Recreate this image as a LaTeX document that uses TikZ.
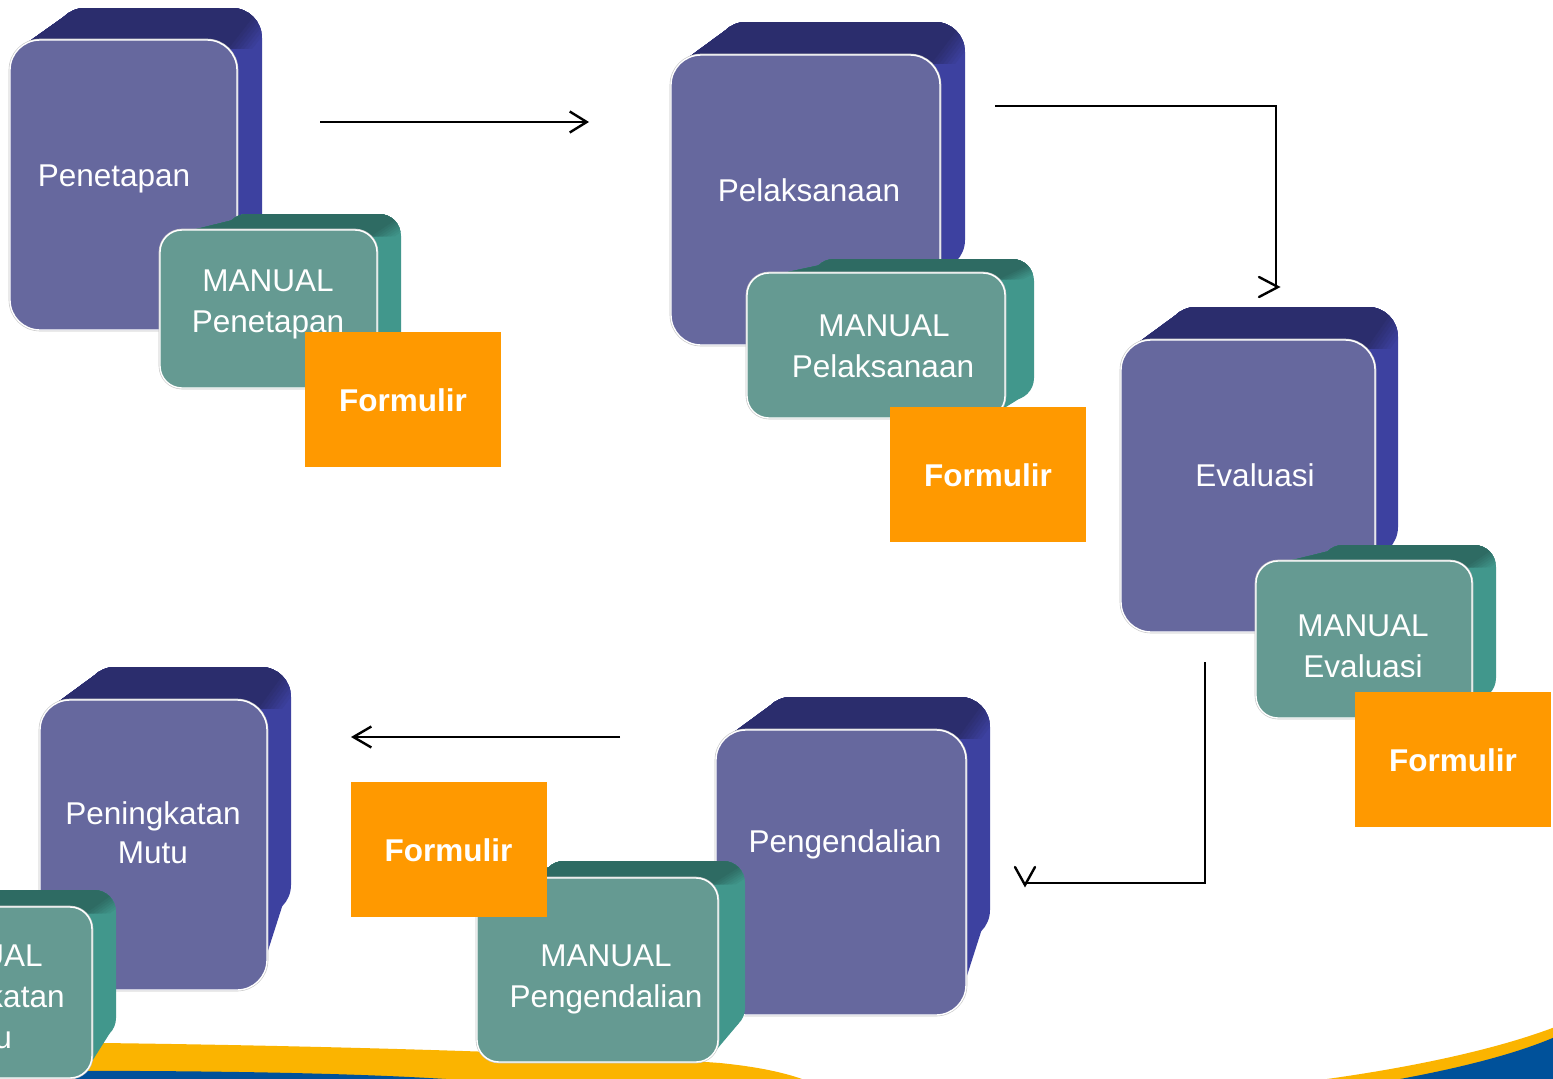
\documentclass[tikz,border=0pt]{standalone}
\usepackage{fontspec}
\setmainfont{Liberation Sans}
\usetikzlibrary{calc,arrows.meta}

\definecolor{purplefront}{RGB}{102,104,158}
\definecolor{purpletop}{RGB}{43,45,109}
\definecolor{purpleside}{RGB}{61,65,160}
\definecolor{tealfront}{RGB}{101,154,146}
\definecolor{tealtop}{RGB}{46,107,99}
\definecolor{tealside}{RGB}{65,151,140}
\definecolor{formorange}{RGB}{255,153,0}
\definecolor{swyellow}{RGB}{251,180,0}
\definecolor{swblue}{RGB}{0,81,154}

% Extruded rounded block: #1 name, #2 colour scheme, #3 corner radius,
% #4/#5 front face corners, #6/#7 back face corners
\newcommand\bevelbox[7]{%
  \pgfmathsetmacro\bk{0.293*#3}%
  \coordinate (#1-f1) at #4;
  \coordinate (#1-f2) at #5;
  \coordinate (#1-b1) at #6;
  \coordinate (#1-b2) at #7;
  \coordinate (#1-ftl) at ($(#1-f1)+(\bk,\bk)$);
  \coordinate (#1-fbr) at ($(#1-f2)+(-\bk,-\bk)$);
  \coordinate (#1-btl) at ($(#1-b1)+(\bk,\bk)$);
  \coordinate (#1-bbr) at ($(#1-b2)+(-\bk,-\bk)$);
  \coordinate (#1-ftr) at ($(#1-f2|-#1-f1)+(-\bk,\bk)$);
  \coordinate (#1-btr) at ($(#1-b2|-#1-b1)+(-\bk,\bk)$);
  % side of the extrusion
  \fill[#2side,rounded corners=#3] (#1-b1) rectangle (#1-b2);
  \fill[#2side] (#1-ftl) -- (#1-btl) -- (#1-bbr) -- (#1-fbr) -- cycle;
  % top of the extrusion, blended into the side near the corner
  \foreach \i in {6,5,...,0} {
    \pgfmathtruncatemacro\mix{100-\i*14}
    \begin{scope}
      \clip ($(#1-ftr)+(\i*4,0)$) -- ($($(#1-ftr)!4!(#1-btr)$)+(\i*4,0)$)
        -- ++(-900,0) |- ($(#1-ftr)+(\i*4,0)$) -- cycle;
      \fill[#2top!\mix!#2side,rounded corners=#3] (#1-b1) rectangle (#1-b2);
      \fill[#2top!\mix!#2side] (#1-ftl) -- (#1-btl) -- (#1-bbr) -- (#1-fbr) -- cycle;
    \end{scope}
  }
  % front face
  \draw[gray!45,line width=2.6pt,rounded corners=#3] (#1-f1) rectangle (#1-f2);
  \fill[#2front,draw=white,line width=1.4pt,rounded corners=#3] (#1-f1) rectangle (#1-f2);
}

\tikzset{
  boxtext/.style={text=white,font=\fontsize{31.5}{38}\selectfont,
    text height=23pt,text depth=0pt,inner sep=0pt},
  formbox/.style={fill=formorange,minimum width=196pt,minimum height=135pt,
    inner sep=0pt,text=white,font=\fontsize{31.5}{38}\selectfont\bfseries,
    text height=23pt,text depth=0pt},
  link/.style={line width=2.4pt,black},
  chevron/.style={line width=2.4pt,black,line cap=round,line join=miter},
}

\begin{document}
\begin{tikzpicture}[x=1pt,y=-1pt]
\useasboundingbox (0,0) rectangle (1553,1079);
\fill[white] (0,0) rectangle (1553,1079);

% bottom swoosh
\fill[swyellow] (-2,1042) .. controls (300,1044) and (600,1054) .. (720,1063)
  .. controls (760,1067) and (785,1073) .. (802,1079) -- (-2,1079) -- cycle;
\fill[swblue] (-2,1071) .. controls (200,1070) and (350,1073) .. (446,1079) -- (-2,1079) -- cycle;
\fill[swyellow] (1327,1079) .. controls (1420,1066) and (1500,1048) .. (1555,1027) -- (1555,1079) -- cycle;
\fill[swblue] (1400,1079) .. controls (1470,1066) and (1520,1052) .. (1555,1037) -- (1555,1079) -- cycle;

% Penetapan
\bevelbox{pen}{purple}{30pt}{(10,40)}{(237,330)}{(55,8)}{(262,255)}
\node[boxtext] (pen-t) at (114,175) {Penetapan};
\bevelbox{mpen}{teal}{22pt}{(160,230)}{(377,388)}{(225,214)}{(401,370)}
\node[boxtext] (mpen-t1) at (268,280) {MANUAL};
\node[boxtext] (mpen-t2) at (268,321) {Penetapan};
\node[formbox] (fpen) at (403,399.5) {Formulir};

% Pelaksanaan
\bevelbox{pel}{purple}{30pt}{(671,55)}{(940,345)}{(716,22)}{(965,270)}
\node[boxtext] (pel-t) at (809,190) {Pelaksanaan};
\bevelbox{mpel}{teal}{22pt}{(747,273)}{(1005,418)}{(812,259)}{(1034,400)}
\node[boxtext] (mpel-t1) at (884,325) {MANUAL};
\node[boxtext] (mpel-t2) at (883,366) {Pelaksanaan};
\node[formbox] (fpel) at (988,474.5) {Formulir};

% Evaluasi
\bevelbox{eva}{purple}{30pt}{(1121,340)}{(1375,632)}{(1166,307)}{(1398,557)}
\node[boxtext] (eva-t) at (1255,475) {Evaluasi};
\bevelbox{meva}{teal}{22pt}{(1256,561)}{(1472,718)}{(1321,545)}{(1496,700)}
\node[boxtext] (meva-t1) at (1363,625) {MANUAL};
\node[boxtext] (meva-t2) at (1363,666) {Evaluasi};
\node[formbox] (feva) at (1453,759.5) {Formulir};

% Pengendalian
\bevelbox{pgd}{purple}{30pt}{(716,730)}{(966,1015)}{(761,697)}{(990,940)}
\node[boxtext] (pgd-t) at (845,841) {Pengendalian};
\bevelbox{mpgd}{teal}{22pt}{(477,878)}{(718,1062)}{(542,861)}{(745,1030)}
\node[boxtext] (mpgd-t1) at (606,955) {MANUAL};
\node[boxtext] (mpgd-t2) at (606,996) {Pengendalian};
\node[formbox] (fpgd) at (448.5,849.5) {Formulir};

% Peningkatan Mutu
\bevelbox{pmt}{purple}{30pt}{(40,700)}{(267,990)}{(85,667)}{(291,915)}
\node[boxtext] (pmt-t1) at (153,813) {Peningkatan};
\node[boxtext] (pmt-t2) at (153,852) {Mutu};
\bevelbox{mpmt}{teal}{22pt}{(-138,907)}{(92,1078)}{(-73,890)}{(116,1040)}
\node[boxtext] (mpmt-t1) at (-23,955) {MANUAL};
\node[boxtext] (mpmt-t2) at (-23,996) {Peningkatan};
\node[boxtext] (mpmt-t3) at (-23,1037) {Mutu};

% cycle connectors
\coordinate (a1s) at (320,122);
\coordinate (a1e) at (589,122);
\draw[link,-{Straight Barb[length=17pt,width=21pt,line width=2.4pt]}] (a1s) -- (a1e);

\coordinate (a2s) at (995,106);
\coordinate (a2e) at (1276,287);
\draw[link] (a2s) -| (a2e);
\draw[chevron] ($(a2e)+(-17,-10)$) -- ($(a2e)+(2,0)$) -- ($(a2e)+(-17,10)$);

\coordinate (a3s) at (620,737);
\coordinate (a3e) at (351,737);
\draw[link,-{Straight Barb[length=18pt,width=21pt,line width=2.4pt]}] (a3s) -- (a3e);

\coordinate (a4s) at (1205,662);
\coordinate (a4e) at (1025,883);
\draw[link] (a4s) |- (a4e);
\draw[chevron] ($(a4e)+(-10,-16)$) -- ($(a4e)+(0,2)$) -- ($(a4e)+(10,-16)$);
\end{tikzpicture}
\end{document}
